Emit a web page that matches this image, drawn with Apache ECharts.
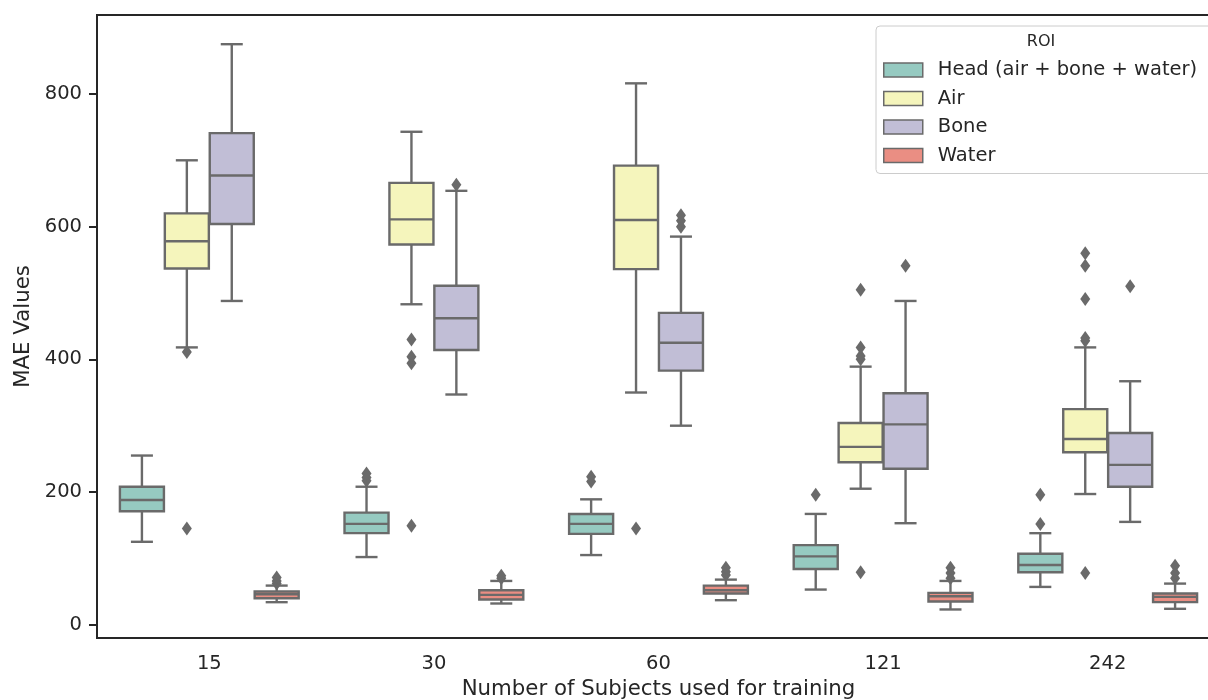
<!DOCTYPE html>
<html><head><meta charset="utf-8">
<script src="https://cdn.jsdelivr.net/npm/echarts@6/dist/echarts.min.js"></script>
<style>html,body{margin:0;padding:0;background:#fff}#c{width:1208px;height:700px}</style>
</head><body><div id="c"></div>
<script>
const categories = ['15', '30', '60', '121', '242'];
const hues = ['Head (air + bone + water)', 'Air', 'Bone', 'Water'];
const yTicks = [0, 200, 400, 600, 800];
// per category: [lower whisker, Q1, median, Q3, upper whisker]
const headBoxes  = [[125,171,188,208,255],[102,138,152,169,208],[105,137,152,167,189],[53,84,103,120,167],[57,79,90,107,138]];
const airBoxes   = [[418,537,578,620,700],[483,573,611,666,743],[350,536,610,692,816],[205,245,268,304,389],[197,260,280,325,418]];
const boneBoxes  = [[488,604,677,741,875],[347,414,462,511,654],[300,383,425,470,585],[153,235,302,349,488],[155,208,241,289,367]];
const waterBoxes = [[34,40,46,50,59],[32,38,45,52,66],[37,47,52,59,68],[23,35,43,48,66],[24,34,42,47,62]];
// outliers: [category index, value]
const headOutliers  = [[1,217],[1,222],[1,228],[2,216],[2,223],[3,196],[4,152],[4,196]];
const airOutliers   = [[0,145],[0,411],[1,149],[1,394],[1,404],[1,430],[2,145],[3,79],[3,400],[3,405],[3,418],[3,505],[4,78],[4,428],[4,432],[4,491],[4,541],[4,560]];
const boneOutliers  = [[1,663],[2,600],[2,609],[2,617],[3,541],[4,510]];
const waterOutliers = [[0,62],[0,66],[0,71],[1,70],[1,74],[2,75],[2,80],[2,86],[3,70],[3,78],[3,86],[4,70],[4,78],[4,89]];

const LINE = '#6a6a6a';
const TXT = '#262626';
const colors = ['#96cac1', '#f5f5bc', '#c1bed6', '#ea8e83'];
const FONT = 'DejaVu Sans';

function boxSeries(name, boxes, h) {
  return {
    type: 'custom', name: name, itemStyle: { color: colors[h] },
    encode: { x: 0, y: [1, 2, 3, 4, 5] },
    data: boxes.map((d, i) => [i].concat(d)),
    renderItem(params, api) {
      const ci = api.value(0);
      const band = api.size([1, 0])[0];
      const w = band * 0.2;
      const xc = api.coord([ci, 0])[0] + (h - 1.5) * w;
      const Y = k => api.coord([ci, api.value(k)])[1];
      const lo = Y(1), q1 = Y(2), md = Y(3), q3 = Y(4), hi = Y(5);
      const bw = w * 0.98, cw = bw * 0.5;
      const ls = { stroke: LINE, lineWidth: 2.4 };
      return { type: 'group', children: [
        { type: 'line', shape: { x1: xc, y1: q3, x2: xc, y2: hi }, style: ls },
        { type: 'line', shape: { x1: xc, y1: q1, x2: xc, y2: lo }, style: ls },
        { type: 'line', shape: { x1: xc - cw/2, y1: hi, x2: xc + cw/2, y2: hi }, style: ls },
        { type: 'line', shape: { x1: xc - cw/2, y1: lo, x2: xc + cw/2, y2: lo }, style: ls },
        { type: 'rect', shape: { x: xc - bw/2, y: q3, width: bw, height: q1 - q3 }, style: { fill: colors[h], stroke: LINE, lineWidth: 2.4 } },
        { type: 'line', shape: { x1: xc - bw/2, y1: md, x2: xc + bw/2, y2: md }, style: ls }
      ]};
    }
  };
}
function outlierSeries(pts, h) {
  return {
    type: 'custom', silent: true, encode: { x: 0, y: 1 }, data: pts, z: 3,
    renderItem(params, api) {
      const band = api.size([1, 0])[0];
      const p = api.coord([api.value(0), api.value(1)]);
      const x = p[0] + (h - 1.5) * band * 0.2, y = p[1];
      return { type: 'polygon', shape: { points: [[x, y - 7], [x + 5, y], [x, y + 7], [x - 5, y]] }, style: { fill: LINE } };
    }
  };
}

const chart = echarts.init(document.getElementById('c'));
chart.setOption({
  animation: false,
  textStyle: { fontFamily: FONT },
  grid: { left: 97, top: 15, width: 1123, height: 623, outerBoundsMode: 'none', containLabel: false, show: true, borderColor: TXT, borderWidth: 2 },
  xAxis: {
    type: 'category', data: categories, boundaryGap: true,
    name: 'Number of Subjects used for training', nameLocation: 'middle', nameGap: 40,
    nameTextStyle: { fontSize: 21.3, color: TXT, fontFamily: FONT },
    axisLine: { onZero: false, lineStyle: { color: TXT, width: 2 } },
    axisTick: { alignWithLabel: true, length: 8, lineStyle: { color: TXT, width: 2 } },
    axisLabel: { fontSize: 19.5, color: TXT, margin: 16, fontFamily: FONT },
    splitLine: { show: false }
  },
  yAxis: {
    type: 'value', min: -20, max: 919,
    name: 'MAE Values', nameLocation: 'middle', nameGap: 56,
    nameTextStyle: { fontSize: 21.3, color: TXT, fontFamily: FONT },
    axisLine: { show: true, onZero: false, lineStyle: { color: TXT, width: 2 } },
    axisTick: { show: true, length: 8, lineStyle: { color: TXT, width: 2 }, customValues: yTicks },
    axisLabel: { fontSize: 19.5, color: TXT, margin: 15, fontFamily: FONT, customValues: yTicks },
    splitLine: { show: false }
  },
  legend: {
    data: hues, orient: 'vertical', left: 876, top: 26,
    padding: [34, 20, 8, 7], itemGap: 8.5, itemWidth: 39, itemHeight: 14, icon: 'rect',
    backgroundColor: 'rgba(255,255,255,0.8)', borderColor: '#cccccc', borderWidth: 1, borderRadius: 4,
    itemStyle: { borderColor: LINE, borderWidth: 1.5 },
    textStyle: { fontSize: 19.5, color: TXT, lineHeight: 20, padding: [0, 0, 0, 10], fontFamily: FONT },
    selectedMode: false
  },
  graphic: [{ type: 'text', x: 1041, y: 42, z: 100, style: { text: 'ROI', fontSize: 16, fill: TXT, align: 'center', verticalAlign: 'middle', fontFamily: FONT } }],
  series: [
    boxSeries(hues[0], headBoxes, 0), boxSeries(hues[1], airBoxes, 1),
    boxSeries(hues[2], boneBoxes, 2), boxSeries(hues[3], waterBoxes, 3),
    outlierSeries(headOutliers, 0), outlierSeries(airOutliers, 1),
    outlierSeries(boneOutliers, 2), outlierSeries(waterOutliers, 3)
  ]
});
</script></body></html>
